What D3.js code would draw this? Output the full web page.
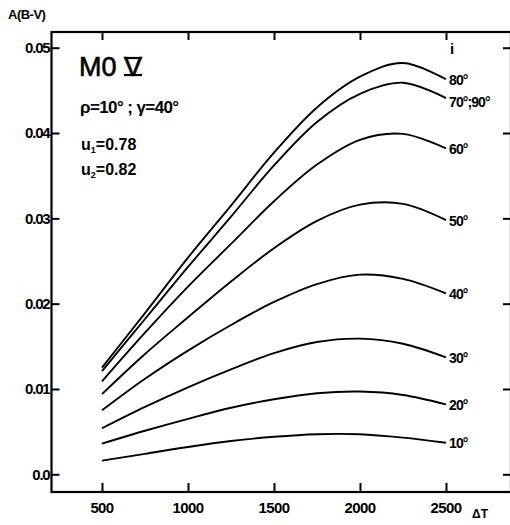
<!DOCTYPE html>
<html><head><meta charset="utf-8">
<script src="https://cdn.jsdelivr.net/npm/d3@7/dist/d3.min.js"></script>
<style>
body{margin:0;background:#fff;}
svg{display:block;}
text{font-family:"Liberation Sans",Arial,sans-serif;fill:#000;}
</style></head><body>
<svg id="c" width="510" height="525"></svg>
<script>
const deltaT = [500, 750, 1000, 1250, 1500, 1750, 2000, 2250, 2500];
const inclinations = ["10°", "20°", "30°", "40°", "50°", "60°", "70°;90°", "80°"];
const s10 = [0.0016, 0.0024, 0.0032, 0.0039, 0.0044, 0.0047, 0.0047, 0.0043, 0.0037];
const s20 = [0.0036, 0.0051, 0.0065, 0.0078, 0.0088, 0.0095, 0.0097, 0.0093, 0.0082];
const s30 = [0.0054, 0.0079, 0.0102, 0.0123, 0.0142, 0.0155, 0.0159, 0.0153, 0.0137];
const s40 = [0.0075, 0.0112, 0.0145, 0.0175, 0.0202, 0.0223, 0.0234, 0.0229, 0.0212];
const s50 = [0.0094, 0.0141, 0.0184, 0.0226, 0.0265, 0.0297, 0.0316, 0.0317, 0.0298];
const s60 = [0.0109, 0.0166, 0.0220, 0.0270, 0.0320, 0.0363, 0.0392, 0.0399, 0.0382];
const s7090 = [0.0121, 0.0182, 0.0243, 0.0302, 0.0362, 0.0413, 0.0446, 0.0459, 0.0441];
const s80 = [0.0125, 0.0189, 0.0254, 0.0315, 0.0377, 0.0430, 0.0466, 0.0482, 0.0463];
const seriesValues = [s10, s20, s30, s40, s50, s60, s7090, s80];
const xTicks = [500, 1000, 1500, 2000, 2500];
const yTicks = [0.0, 0.01, 0.02, 0.03, 0.04, 0.05];
const yTickLabels = ["0.0", "0.01", "0.02", "0.03", "0.04", "0.05"];

const svg = d3.select("#c");
const x = d3.scaleLinear().domain([500, 2500]).range([102, 446]);
const y = d3.scaleLinear().domain([0, 0.05]).range([474.3, 47.7]);
const frame = {l: 51.5, t: 32, r: 511, b: 492};

// frame
svg.append("rect").attr("x", frame.l).attr("y", frame.t)
  .attr("width", frame.r - frame.l).attr("height", frame.b - frame.t)
  .attr("fill", "none").attr("stroke", "#000").attr("stroke-width", 2.2);

// ticks via axes (inward)
const gl = svg.append("g").attr("transform", `translate(${frame.l},0)`)
  .call(d3.axisRight(y).tickValues(yTicks).tickSize(8).tickFormat(""));
const gr = svg.append("g").attr("transform", `translate(${frame.r},0)`)
  .call(d3.axisLeft(y).tickValues(yTicks).tickSize(8).tickFormat(""));
const gb = svg.append("g").attr("transform", `translate(0,${frame.b})`)
  .call(d3.axisTop(x).tickValues(xTicks).tickSize(9).tickFormat(""));
const gt = svg.append("g").attr("transform", `translate(0,${frame.t})`)
  .call(d3.axisBottom(x).tickValues(xTicks).tickSize(8).tickFormat(""));
[gl, gr, gb, gt].forEach(g => {
  g.select(".domain").remove();
  g.selectAll("line").attr("stroke", "#000").attr("stroke-width", 2);
});

// tick labels
svg.append("g").selectAll("text").data(yTicks).join("text")
  .attr("x", frame.l - 2).attr("y", d => y(d)).attr("dy", "0.36em")
  .attr("text-anchor", "end").attr("font-size", 15).attr("font-weight", "bold")
  .attr("letter-spacing", -1.2)
  .text((d, i) => yTickLabels[i]);
svg.append("g").selectAll("text").data(xTicks).join("text")
  .attr("x", d => x(d)).attr("y", 513)
  .attr("text-anchor", "middle").attr("font-size", 15).attr("font-weight", "bold")
  .attr("letter-spacing", -0.6)
  .text(d => d);

// axis titles
svg.append("text").attr("x", 8).attr("y", 19).attr("font-size", 13).attr("font-weight", "bold")
  .attr("letter-spacing", -0.5).text("A(B-V)");
svg.append("text").attr("x", 472).attr("y", 518).attr("font-size", 12).attr("font-weight", "bold")
  .text("ΔT");

// curves
const line = d3.line().x((d, i) => x(deltaT[i])).y(d => y(d)).curve(d3.curveCatmullRom.alpha(0.5));
svg.append("g").selectAll("path").data(seriesValues).join("path")
  .attr("d", d => line(d)).attr("fill", "none").attr("stroke", "#000").attr("stroke-width", 1.9);

// right labels
const labelDy = [0, 0, 0, 0, 0, 0, 3, 0];
svg.append("g").selectAll("text").data(seriesValues).join("text")
  .attr("x", x(2500) + 3).attr("y", (d, i) => y(d[d.length - 1]) + labelDy[i]).attr("dy", "0.4em")
  .attr("font-size", 14).attr("font-weight", "bold").attr("letter-spacing", -0.9)
  .text((d, i) => inclinations[i]);
svg.append("text").attr("x", 450).attr("y", 54).attr("font-size", 15).attr("font-weight", "bold").text("i");

// annotation
const title = svg.append("text").attr("x", 79).attr("y", 76).attr("font-size", 27)
  .attr("stroke", "#000").attr("stroke-width", 0.6);
title.append("tspan").text("M0 ");
const vt = title.append("tspan").text("V");
(function(){
  const n = vt.node();
  const start = n.getStartPositionOfChar(0).x, end = n.getEndPositionOfChar(0).x;
  [58, 75].forEach(yy => svg.append("line").attr("x1", start).attr("x2", end)
    .attr("y1", yy).attr("y2", yy).attr("stroke", "#000").attr("stroke-width", 2.2));
})();
svg.append("text").attr("x", 80).attr("y", 113).attr("font-size", 17).attr("font-weight", "bold")
  .attr("letter-spacing", -0.6).text("ρ=10° ; γ=40°");
const u1 = svg.append("text").attr("x", 81).attr("y", 150).attr("font-size", 16).attr("font-weight", "bold");
u1.append("tspan").text("u");
u1.append("tspan").attr("font-size", 9).attr("dy", 3).text("1");
u1.append("tspan").attr("dy", -3).text("=0.78");
const u2 = svg.append("text").attr("x", 81).attr("y", 175).attr("font-size", 16).attr("font-weight", "bold");
u2.append("tspan").text("u");
u2.append("tspan").attr("font-size", 9).attr("dy", 3).text("2");
u2.append("tspan").attr("dy", -3).text("=0.82");
</script>
</body></html>
